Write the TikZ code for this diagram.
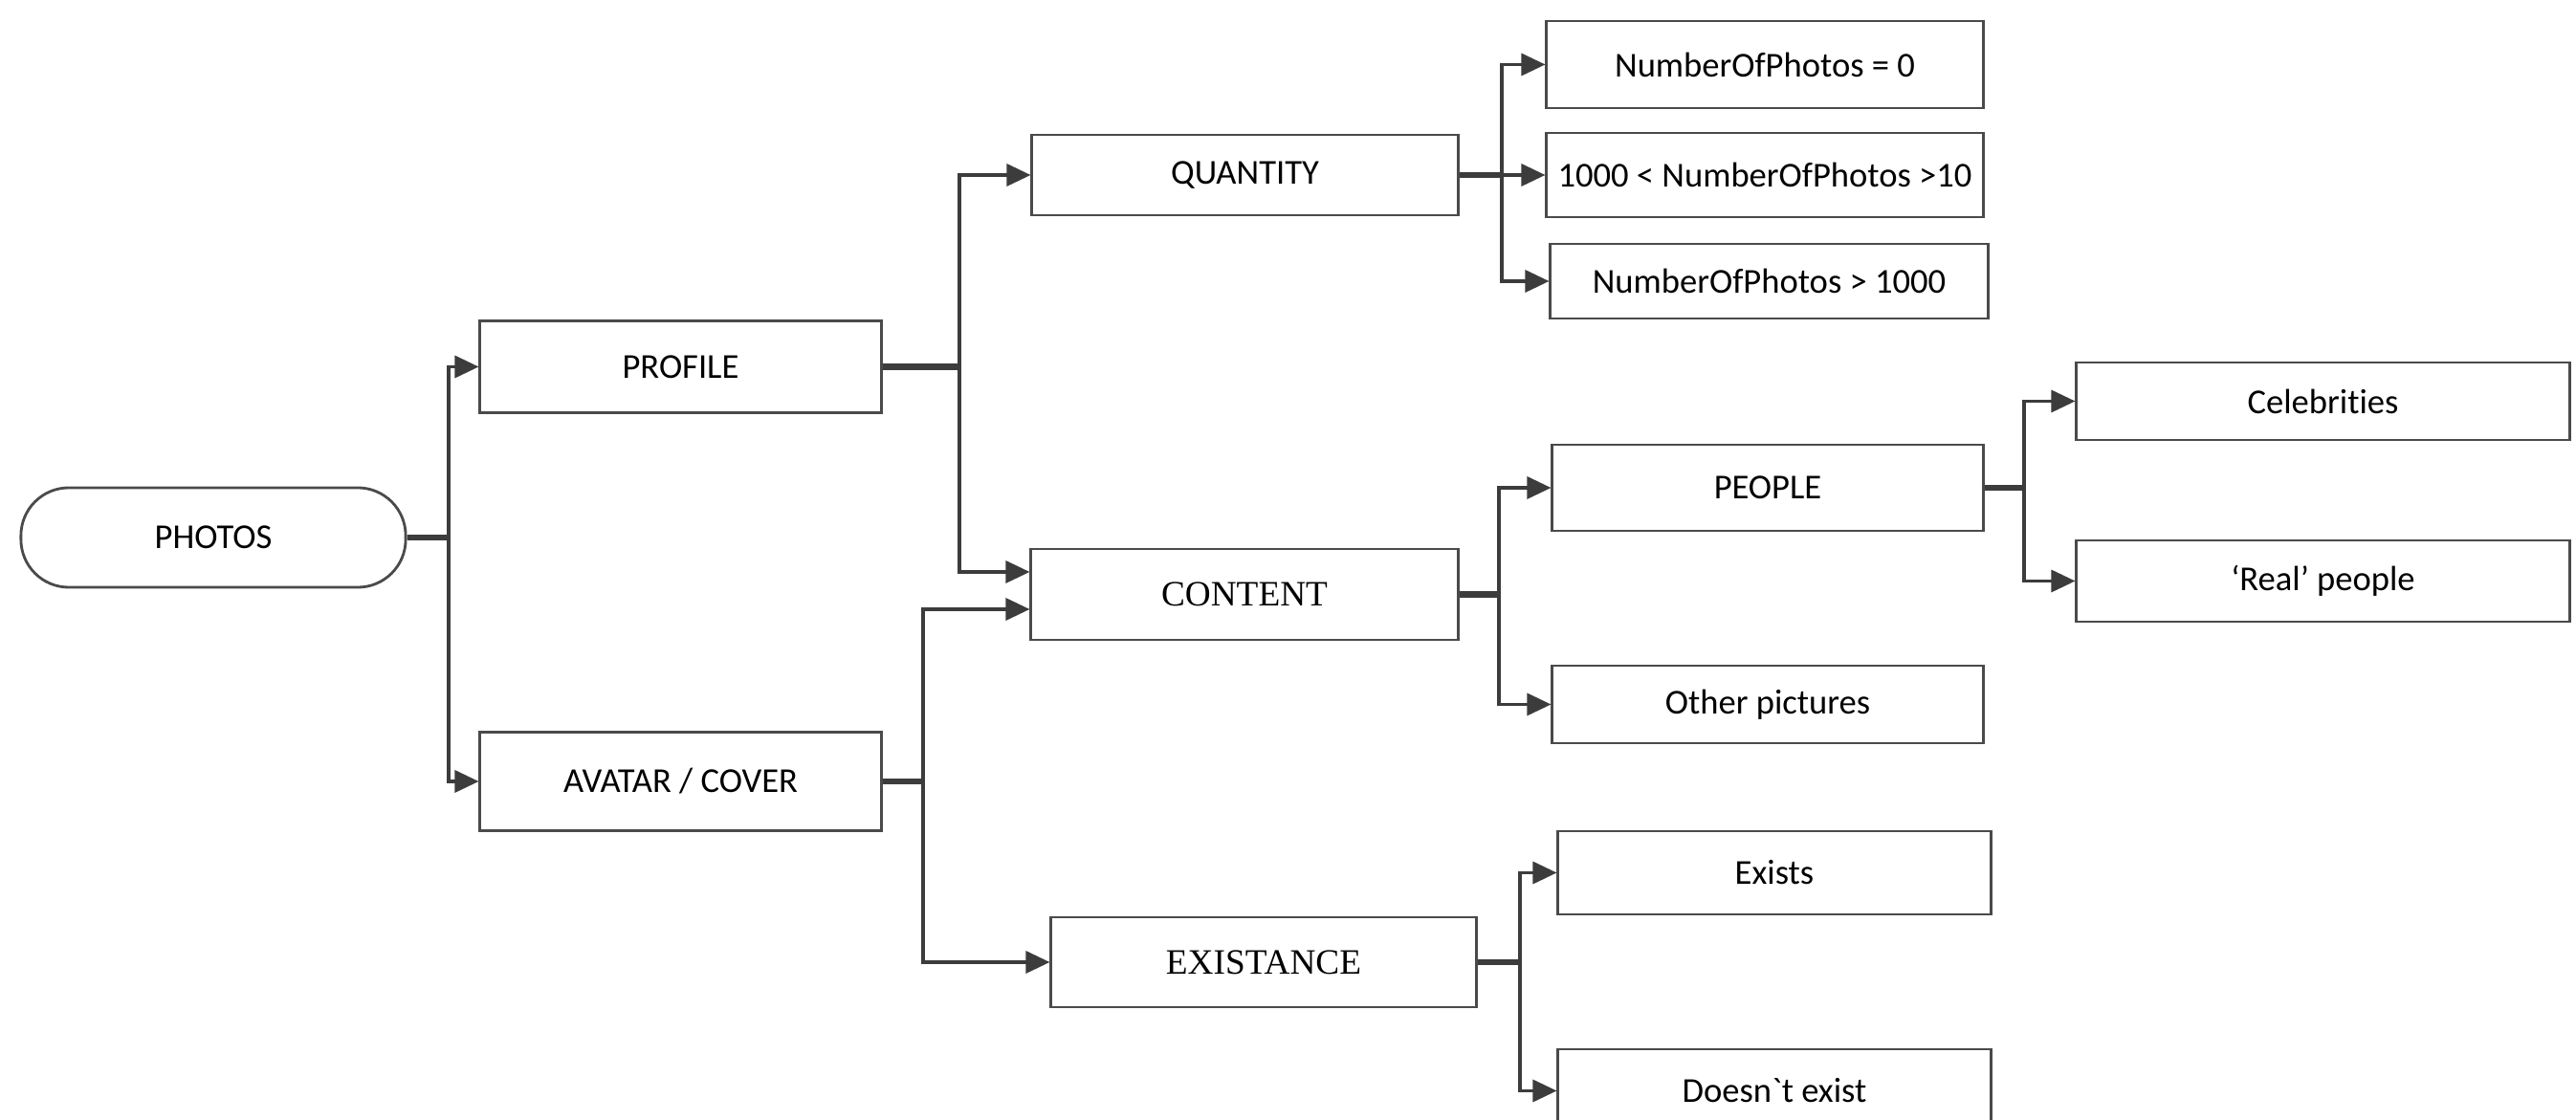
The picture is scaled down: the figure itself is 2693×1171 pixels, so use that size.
\documentclass[tikz,border=0pt]{standalone}
\usepackage{fontspec}
\setmainfont{Carlito}[Ligatures=NoCommon]
\newfontfamily\rawcarlito{Carlito}[Ligatures={TeXOff,NoCommon}]
\newfontfamily\serifface{Liberation Serif}
\usetikzlibrary{arrows.meta}
\definecolor{ink}{HTML}{3C3C3C}
\definecolor{frame}{HTML}{4A4A4A}
\begin{document}
\begin{tikzpicture}[x=0.01cm,y=-0.01cm,
  box/.style={draw=frame,line width=0.8pt,rectangle,inner sep=0pt,
    font=\fontsize{10.4}{12}\selectfont,text=black},
  pill/.style={box,rounded corners=0.5cm},
  serifbox/.style={box,font=\fontsize{10.6}{12}\serifface\selectfont},
  conn/.style={draw=ink,line width=0.95pt,
    -{Triangle[length=0.25cm,width=0.23cm]}},
  stub/.style={draw=ink,line width=1.8pt}]
\useasboundingbox (0,0) rectangle (2693,1171);
\clip (0,0) rectangle (2693,1171);

% root and first level
\node[pill,minimum width=4.02cm,minimum height=1.04cm] (photos) at (223,562) {PHOTOS};
\node[box,minimum width=4.19cm,minimum height=0.96cm] (profile) at (711.5,383.5) {PROFILE};
\node[box,minimum width=4.19cm,minimum height=1.03cm] (avatar) at (711.5,817) {AVATAR / COVER};

% second level
\node[box,minimum width=4.45cm,minimum height=0.84cm] (quantity) at (1301.5,183) {QUANTITY};
\node[serifbox,minimum width=4.46cm,minimum height=0.95cm] (content) at (1301,621.5) {CONTENT};
\node[serifbox,minimum width=4.44cm,minimum height=0.94cm] (existance) at (1321,1006) {EXISTANCE};

% quantity leaves
\node[box,minimum width=4.56cm,minimum height=0.91cm] (nzero) at (1845,67.5) {NumberOfPhotos = 0};
\node[box,minimum width=4.56cm,minimum height=0.88cm] (nmid) at (1845,183) {1000 < NumberOfPhotos >10};
\node[box,minimum width=4.57cm,minimum height=0.78cm] (nbig) at (1849.5,294) {NumberOfPhotos > 1000};

% content branches
\node[box,minimum width=4.50cm,minimum height=0.90cm] (people) at (1848,510) {PEOPLE};
\node[box,minimum width=4.50cm,minimum height=0.81cm] (other) at (1848,736.5) {Other pictures};
\node[box,minimum width=5.15cm,minimum height=0.81cm] (celeb) at (2428.5,419.5) {Celebrities};
\node[box,minimum width=5.15cm,minimum height=0.85cm] (real) at (2428.5,607.5) {‘Real’ people};

% existence leaves
\node[box,minimum width=4.52cm,minimum height=0.87cm] (exists) at (1855,912.5) {Exists};
\node[box,minimum width=4.52cm,minimum height=0.87cm] (noexist) at (1855,1140.5) {{\rawcarlito Doesn`t exist}};

% branching points
\coordinate (jroot) at (469,562);
\coordinate (jprof) at (1003,383.5);
\coordinate (javat) at (965,817);
\coordinate (jquan) at (1570,183);
\coordinate (jcont) at (1567,621.5);
\coordinate (jpeop) at (2116,510);
\coordinate (jexis) at (1589,1006);

% stubs leaving each parent
\draw[stub] (photos.east) -- (jroot);
\draw[stub] (profile.east) -- (jprof);
\draw[stub] (avatar.east) -- (javat);
\draw[stub] (quantity.east) -- (jquan);
\draw[stub] (content.east) -- (jcont);
\draw[stub] (people.east) -- (jpeop);
\draw[stub] (existance.east) -- (jexis);

% arrows to children
\draw[conn] (jroot) |- (profile.west);
\draw[conn] (jroot) |- (avatar.west);
\draw[conn] (jprof) |- (quantity.west);
\draw[conn] (jprof) |- ([yshift=0.235cm]content.west);
\draw[conn] (javat) |- ([yshift=-0.155cm]content.west);
\draw[conn] (javat) |- (existance.west);
\draw[conn] (jquan) |- (nzero.west);
\draw[conn] (jquan) -- (nmid.west);
\draw[conn] (jquan) |- (nbig.west);
\draw[conn] (jcont) |- (people.west);
\draw[conn] (jcont) |- (other.west);
\draw[conn] (jpeop) |- (celeb.west);
\draw[conn] (jpeop) |- (real.west);
\draw[conn] (jexis) |- (exists.west);
\draw[conn] (jexis) |- (noexist.west);
\end{tikzpicture}
\end{document}
